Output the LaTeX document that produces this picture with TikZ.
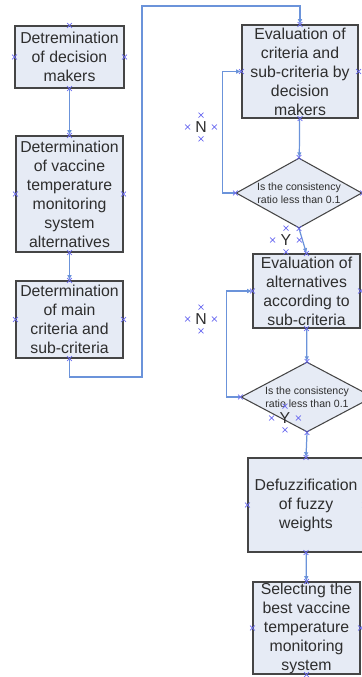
\documentclass[tikz,border=0pt]{standalone}
\usepackage{fontspec}
\setmainfont{Liberation Sans}
\usepackage{xcolor}
\usetikzlibrary{arrows.meta,positioning,shapes.geometric,shapes.misc}
\definecolor{boxfill}{HTML}{E6EBF5}
\definecolor{boxline}{HTML}{454545}
\definecolor{wire}{HTML}{6B93DA}
\definecolor{mark}{HTML}{6A6AF0}
\definecolor{ink}{HTML}{2E2E2E}

% connection points round a node
\newcommand\conpts[1]{\foreach \an in {north,south,east,west}{\node[cpt] at (#1.\an) {};}}

\begin{document}
\begin{tikzpicture}[
  x=0.02cm, y=-0.02cm,
  stepbox/.style={draw=boxline, fill=boxfill, line width=0.6pt, text=ink,
    inner sep=0pt, align=center, font=\fontsize{9}{10.8}\selectfont},
  decide/.style={diamond, draw=boxline, fill=boxfill, line width=0.6pt,
    inner sep=0pt, minimum width=2.6cm, minimum height=1.4cm},
  dtext/.style={text=ink, align=center, font=\fontsize{6}{7.4}\selectfont},
  answer/.style={text=ink, font=\fontsize{9}{10}\selectfont,
    minimum width=0.52cm, minimum height=0.46cm, inner sep=0pt},
  cpt/.style={cross out, draw=mark, line width=0.4pt, minimum size=2.4pt, inner sep=0pt},
  flow/.style={-{Latex[length=3pt,width=2.6pt]}, wire, line width=0.7pt}
]
\useasboundingbox (0,0) rectangle (362,677);
% ---------------- left column ----------------
\node[stepbox, minimum width=2.18cm, minimum height=1.24cm] (dm) at (69.5,57)
  {Detremination\\of decision\\makers};
\node[stepbox, minimum width=2.14cm, minimum height=2.32cm] (alt) at (69.5,194)
  {Determination\\of vaccine\\temperature\\monitoring\\system\\alternatives};
\node[stepbox, minimum width=2.14cm, minimum height=1.54cm] (crit) at (69.5,319.5)
  {Determination\\of main\\criteria and\\sub-criteria};
% ---------------- right column ----------------
\node[stepbox, minimum width=2.32cm, minimum height=1.86cm] (evalc) at (300,71.5)
  {Evaluation of\\criteria and\\sub-criteria by\\decision\\makers};
\node[decide, minimum width=2.52cm] (cons1) at (299,193)
  {}; \node[dtext] (q1) at (cons1.center) {Is the consistency\\ratio less than 0.1};
\node[stepbox, minimum width=2.14cm, minimum height=1.48cm] (evala) at (306.5,291)
  {Evaluation of\\alternatives\\according to\\sub-criteria};
\node[decide, minimum width=2.64cm] (cons2) at (307,397)
  {}; \node[dtext] (q2) at (cons2.center) {Is the consistency\\ratio less than 0.1};
\node[stepbox, minimum width=2.32cm, minimum height=1.88cm] (defuz) at (306,505)
  {Defuzzification\\of fuzzy\\weights};
\node[stepbox, minimum width=2.14cm, minimum height=1.84cm] (best) at (306.5,628)
  {Selecting the\\best vaccine\\temperature\\monitoring\\system};
% ---------------- answers ----------------
\node[answer] (no1) at (201,127) {N};
\node[answer] (yes1) at (286,240) {Y};
\node[answer] (no2) at (201,319) {N};
\node[answer] (yes2) at (285,418) {Y};
% ---------------- connectors ----------------
\coordinate (turnA) at (142,377);
\coordinate (turnB) at (142,6);
\draw[flow] (dm) -- (alt);
\draw[flow] (alt) -- (crit);
\draw[flow] (crit.south) |- (turnA) -- (turnB) -| (evalc.north);
\draw[flow] (evalc) -- (cons1);
\draw[flow] (cons1.west) -- ++(-13,0) |- (evalc.west);
\draw[flow] (cons1.south) -- (evala.north);
\draw[flow] (evala) -- (cons2);
\draw[flow] (cons2.west) -- ++(-14,0) |- (evala.west);
\draw[flow] (cons2.south) -- (defuz.north);
\draw[flow] (defuz) -- (best);
% ---------------- connection points ----------------
\foreach \nd in {dm,alt,crit,evalc,cons1,evala,cons2,defuz,best,no1,yes1,no2,yes2}
  {\conpts{\nd}}
\end{tikzpicture}
\end{document}
